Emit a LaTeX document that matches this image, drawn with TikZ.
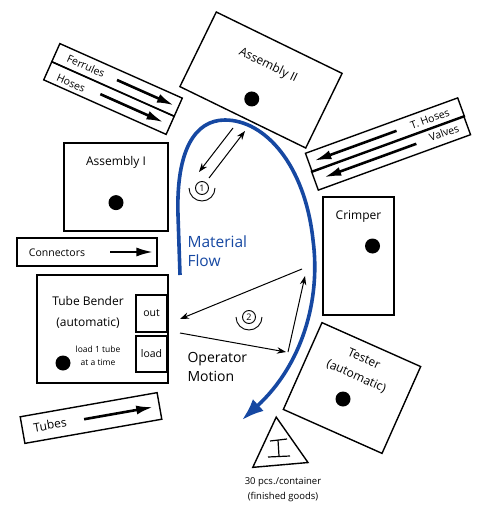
\documentclass[tikz,border=0pt]{standalone}
\usepackage{fontspec}
\setmainfont{Open Sans}
\usepackage{xcolor}
\usepackage{tikz}
\usetikzlibrary{shapes.geometric, arrows.meta, positioning, calc}
\definecolor{flowblue}{RGB}{22, 72, 162}

\tikzset{
  station/.style={draw, line width=1.4pt, inner sep=0pt},
  rack/.style={draw, line width=1.4pt, inner sep=0pt, minimum height=20pt},
  machdot/.style={circle, fill=black, inner sep=0pt, minimum size=15pt},
  feedarrow/.style={-{Latex[length=17pt, width=9pt]}, line width=2.6pt},
  opmove/.style={-{Stealth[length=9pt, width=6.5pt]}, line width=1pt},
  steplabel/.style={circle, draw, line width=0.9pt, inner sep=0pt, minimum size=13pt, font=\fontsize{9}{9}\selectfont}
}

\begin{document}
\begin{tikzpicture}[x=1pt, y=-1pt, font=\fontsize{12}{14}\selectfont]
    \useasboundingbox (0,0) rectangle (485,513);

    % work stations
    \node[station, minimum width=140pt, minimum height=83pt, rotate=-26] (asm2) at (261,80) {};
    \node[rotate=-26] (asm2-txt) at ($(asm2.center)!0.38!(asm2.north)$) {Assembly II};
    \node[machdot] (asm2-dot) at ($(asm2.center)!0.5!(asm2.south)$) {};

    \node[station, minimum width=104pt, minimum height=88pt] (asm1) at (116,187) {};
    \node (asm1-txt) at ($(asm1.center)!0.55!(asm1.north)$) {Assembly I};
    \node[machdot] (asm1-dot) at ($(asm1.center)!0.35!(asm1.south)$) {};

    \node[station, minimum width=71pt, minimum height=118pt] (crimper) at (358.5,256) {};
    \node (crimper-txt) at ($(crimper.center)!0.66!(crimper.north)$) {Crimper};
    \node[machdot] (crimper-dot) at ($(crimper.center)+(14,-10)$) {};

    \node[station, minimum width=108pt, minimum height=95pt, rotate=-24] (tester) at (352,388) {};
    \node[rotate=-24, align=center, font=\fontsize{12}{19}\selectfont] (tester-txt) at (360,368) {Tester\\(automatic)};
    \node[machdot] (tester-dot) at (343,399) {};

    \node[station, minimum width=131pt, minimum height=108pt] (bender) at (102.5,329) {};
    \node[station, minimum width=31pt, minimum height=37pt, font=\fontsize{10.5}{12}\selectfont] (outbox) at (151.5,313.5) {out};
    \node[station, minimum width=31pt, minimum height=36pt, font=\fontsize{10.5}{12}\selectfont] (loadbox) at (151.5,354) {load};
    \node[align=center, font=\fontsize{12}{21}\selectfont] (bender-txt) at (88,312.5) {Tube Bender\\(automatic)};
    \node[align=center, font=\fontsize{8.5}{13}\selectfont] (bender-note) at (98,355.5) {load 1 tube\\at a time};
    \node[machdot] (bender-dot) at (63,363) {};

    % supply racks
    \node[rack, minimum width=134pt, rotate=-24] (ferrules) at (117,80) {};
    \node[rack, minimum width=134pt, rotate=-24] (hoses) at (109,98) {};
    \node[rotate=-24, font=\fontsize{10.5}{12}\selectfont] (ferrules-txt) at (86,66) {Ferrules};
    \node[rotate=-24, font=\fontsize{10.5}{12}\selectfont] (hoses-txt) at (71,83) {Hoses};
    \draw[feedarrow] (ferrules.center) -- ($(ferrules.center)!0.92!(ferrules.east)$);
    \draw[feedarrow] ($(hoses.center)!0.14!(hoses.west)$) -- ($(hoses.center)!0.88!(hoses.east)$);

    \node[rack, minimum width=162pt, rotate=20] (thoses) at (385,135) {};
    \node[rack, minimum width=162pt, rotate=20] (valves) at (391,153) {};
    \node[rotate=20, font=\fontsize{10.5}{12}\selectfont] (thoses-txt) at (430,119) {T. Hoses};
    \node[rotate=20, font=\fontsize{10.5}{12}\selectfont] (valves-txt) at (444,133) {Valves};
    \draw[feedarrow] ($(thoses.center)!0.15!(thoses.east)$) -- ($(thoses.center)!0.92!(thoses.west)$);
    \draw[feedarrow] ($(valves.center)!0.33!(valves.east)$) -- ($(valves.center)!0.87!(valves.west)$);

    \node[station, minimum width=140pt, minimum height=28pt] (connectors) at (87,252) {};
    \node[font=\fontsize{10.5}{12}\selectfont] (connectors-txt) at (57,253) {Connectors};
    \draw[feedarrow] ($(connectors.center)!0.33!(connectors.east)$) -- ($(connectors.center)!0.94!(connectors.east)$);

    \node[station, minimum width=139pt, minimum height=27pt, rotate=10] (tubes) at (91,418) {};
    \node[rotate=10] (tubes-txt) at (50,425) {Tubes};
    \draw[feedarrow] ($(tubes.center)!0.1!(tubes.west)$) -- ($(tubes.center)!0.9!(tubes.east)$);

    % finished goods
    \node[draw, line width=1.4pt, regular polygon, regular polygon sides=3, minimum size=64pt, rotate=5, inner sep=0pt] (bin) at (279,449) {};
    \draw[line width=1.2pt] ($(bin.center)+(-9,-8)$) -- ($(bin.center)+(8,-10)$);
    \draw[line width=1.2pt] ($(bin.center)+(-1,-9)$) -- ($(bin.center)+(0,7)$);
    \draw[line width=1.2pt] ($(bin.center)+(-11,8)$) -- ($(bin.center)+(11,7)$);
    \node[align=center, font=\fontsize{9.5}{15}\selectfont] (bin-txt) at (283,490) {30 pcs./container\\(finished goods)};

    % material flow
    \coordinate (flow-start) at (180,275);
    \coordinate (flow-end) at (242,420);
    \draw[flowblue, line width=3.6pt, -{Latex[length=22pt, width=16pt]}] (flow-start) -- (178,215)
        .. controls (176,150) and (195,120) .. (225,120)
        .. controls (265,120) and (305,165) .. (313,240)
        .. controls (321,300) and (302,365) .. (flow-end);
    \node[anchor=west, align=left, text=flowblue, font=\fontsize{15.5}{18.5}\selectfont] (flow-txt) at (184,251) {Material\\Flow};

    % operator motion
    \node[steplabel] (step1) at (202,188) {1};
    \draw[line width=0.9pt] ([shift={(0:13)}]step1.center) arc[start angle=0, end angle=180, radius=13];
    \coordinate (s1-a) at (233,128);
    \coordinate (s1-b) at (199,172);
    \coordinate (s1-c) at (209,178);
    \coordinate (s1-d) at (245,131);
    \draw[opmove] (s1-a) -- (s1-b);
    \draw[opmove] (s1-c) -- (s1-d);

    \node[steplabel] (step2) at (249,317) {2};
    \draw[line width=0.9pt] ([shift={(0:13)}]step2.center) arc[start angle=0, end angle=180, radius=13];
    \coordinate (op-top) at (302,269);
    \coordinate (op-out) at (180,319);
    \coordinate (op-load) at (180,333);
    \coordinate (op-low) at (286,352);
    \coordinate (op-up) at (305,276);
    \draw[opmove] (op-top) -- (op-out);
    \draw[opmove] (op-load) -- (op-low);
    \draw[opmove] ($(op-low)+(2,0)$) -- (op-up);
    \node[anchor=west, align=left, font=\fontsize{14}{19}\selectfont] (op-txt) at (184,367) {Operator\\Motion};
\end{tikzpicture}
\end{document}
